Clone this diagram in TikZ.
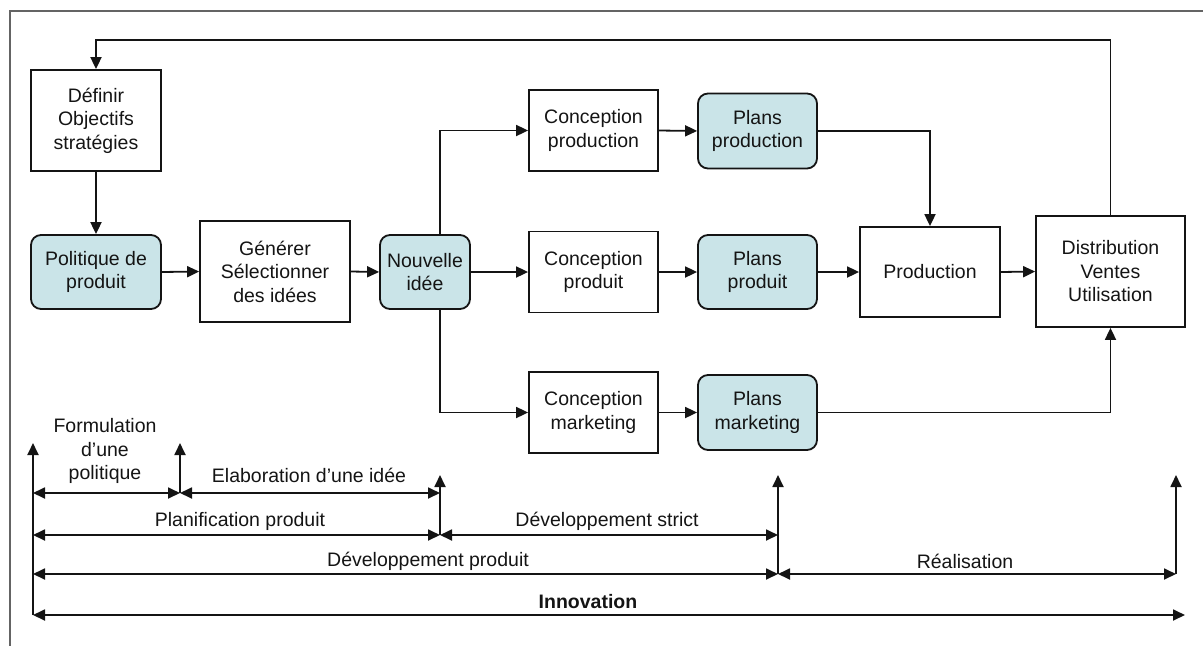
\documentclass[tikz,border=0pt]{standalone}
\usepackage{fontspec}
\setmainfont{Liberation Sans}
\usetikzlibrary{arrows.meta}
\definecolor{bluefill}{RGB}{202,228,232}
\definecolor{framegray}{RGB}{100,100,100}
\definecolor{ink}{RGB}{20,20,20}
\begin{document}
\begin{tikzpicture}[x=1pt,y=-1pt,
  every node/.style={font=\fontsize{19.5}{23.5}\selectfont, text=ink},
  box/.style={draw=ink, line width=1.8pt, align=center, inner sep=0pt},
  rbox/.style={box, rounded corners=10pt, fill=bluefill},
  arr/.style={draw=ink, line width=1.8pt, -{Triangle[length=12pt,width=11pt]}},
  darr/.style={draw=ink, line width=1.8pt, {Triangle[length=12pt,width=11pt]}-{Triangle[length=12pt,width=11pt]}},
  lbl/.style={align=center, inner sep=0pt}]
\useasboundingbox (0,0) rectangle (1203,646);
\draw[framegray, line width=2.4pt] (1203,11) -- (10,11) -- (10,646);

% nodes
\node[box, minimum width=130pt, minimum height=101pt] (def) at (96,120.5) {Définir\\Objectifs\\stratégies};
\node[rbox, minimum width=130pt, minimum height=74pt] (pol) at (96,272) {Politique de\\produit};
\node[box, minimum width=150pt, minimum height=101pt] (gen) at (275,271.5) {Générer\\Sélectionner\\des idées};
\node[rbox, minimum width=90pt, minimum height=74pt] (nouv) at (425,272) {Nouvelle\\idée};
\node[box, minimum width=129pt, minimum height=81pt] (cprod) at (593.5,130.5) {Conception\\production};
\node[rbox, minimum width=119pt, minimum height=75pt] (pprod) at (757.5,131) {Plans\\production};
\node[box, minimum width=129pt, minimum height=81pt] (cpdt) at (593.5,272) {Conception\\produit};
\node[rbox, minimum width=119pt, minimum height=74pt] (ppdt) at (757.5,272) {Plans\\produit};
\node[box, minimum width=129pt, minimum height=81pt] (cmkt) at (593.5,412.5) {Conception\\marketing};
\node[rbox, minimum width=119pt, minimum height=75pt] (pmkt) at (757.5,412.5) {Plans\\marketing};
\node[box, minimum width=140pt, minimum height=90pt] (prodn) at (930,272) {Production};
\node[box, minimum width=149pt, minimum height=111pt] (dist) at (1110.5,271.5) {Distribution\\Ventes\\Utilisation};

% connectors
\coordinate (top) at (0,40);
\coordinate (bx) at (440,0);
\draw[arr] (dist.north) |- (top -| def.north) -- (def.north);
\draw[arr] (def.south) -- (pol.north);
\draw[arr] (pol.east) -- (gen.west);
\draw[arr] (gen.east) -- (nouv.west);
\draw[arr] (nouv.east) -- (cpdt.west);
\draw[arr] (nouv.north -| bx) |- (cprod.west);
\draw[arr] (nouv.south -| bx) |- (cmkt.west);
\draw[arr] (cprod.east) -- (pprod.west);
\draw[arr] (cpdt.east) -- (ppdt.west);
\draw[arr] (cmkt.east) -- (pmkt.west);
\draw[arr] (pprod.east) -| (prodn.north);
\draw[arr] (ppdt.east) -- (prodn.west);
\draw[arr] (prodn.east) -- (dist.west);
\draw[arr] (pmkt.east) -| (dist.south);

% timeline coordinates
\coordinate (a0) at (33,615);  \coordinate (a0t) at (33,443);
\coordinate (a1) at (180,493); \coordinate (a1t) at (180,443);
\coordinate (a2) at (440,535); \coordinate (a2t) at (440,475);
\coordinate (a3) at (778,574); \coordinate (a3t) at (778,475);
\coordinate (a4) at (1176,574); \coordinate (a4t) at (1176,475);
\draw[arr] (a0) -- (a0t);
\draw[arr] (a1) -- (a1t);
\draw[arr] (a2) -- (a2t);
\draw[arr] (a3) -- (a3t);
\draw[arr] (a4) -- (a4t);

\draw[darr] (a0 |- a1) -- (a1);
\draw[darr] (a1) -- (a2 |- a1);
\draw[darr] (a0 |- a2) -- (a2);
\draw[darr] (a2) -- (a3 |- a2);
\draw[darr] (a0 |- a3) -- (a3);
\draw[darr] (a3) -- (a4);
\coordinate (innR) at (1185,615);
\draw[darr] (a0) -- (innR);

% labels
\node[lbl] (l1) at (105,451) {Formulation\\d’une\\politique};
\node[lbl] (l2) at (309,475) {Elaboration d’une idée};
\node[lbl] (l3) at (240,521) {Planification produit};
\node[lbl] (l4) at (607,521) {Développement strict};
\node[lbl] (l5) at (428,561) {Développement produit};
\node[lbl] (l6) at (965,561) {Réalisation};
\node[lbl, font=\fontsize{19.5}{23.5}\selectfont\bfseries] (l7) at (588,602) {Innovation};
\end{tikzpicture}
\end{document}
